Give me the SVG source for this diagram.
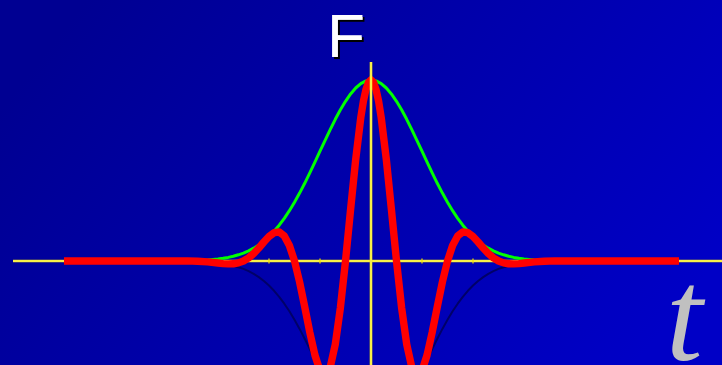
<svg xmlns="http://www.w3.org/2000/svg" width="722" height="365" viewBox="0 0 722 365">
  <defs>
    <linearGradient id="bg" x1="0" y1="0.3" x2="1" y2="0.7">
      <stop offset="0" stop-color="#000092"/>
      <stop offset="1" stop-color="#0000c6"/>
    </linearGradient>
    <filter id="shadow" x="-20%" y="-20%" width="150%" height="150%">
      <feDropShadow dx="2" dy="2" stdDeviation="0.6" flood-color="#000000" flood-opacity="1"/>
    </filter>
  </defs>
  <style>
    .axis { stroke: #f0e000; stroke-width: 2.6; fill: none; }
    .axisc { stroke: #ffff90; stroke-width: 1; fill: none; }
    .tick { stroke: #f0e000; stroke-width: 1.2; }
    .curve { fill: none; stroke-linejoin: round; stroke-linecap: butt; }
  </style>
  <rect x="0" y="0" width="722" height="365" fill="url(#bg)"/>
  <g id="x-axis">
    <line class="axis" x1="13" y1="261" x2="722" y2="261"/>
    <line class="axisc" x1="13" y1="261" x2="722" y2="261"/>
    <line class="tick" x1="269" y1="258.5" x2="269" y2="263.5"/>
    <line class="tick" x1="320" y1="258.5" x2="320" y2="263.5"/>
    <line class="tick" x1="422" y1="258.5" x2="422" y2="263.5"/>
    <line class="tick" x1="473" y1="258.5" x2="473" y2="263.5"/>
  </g>
  <g id="connectors">
    <polyline id="neg-envelope" class="curve" stroke="#000068" stroke-width="2" points="167,261 187.4,261.3 197.6,261.6 207.8,262.1 218,263 223.1,263.7 228.2,264.6 233.3,265.7 238.4,267.2 243.5,268.9 248.6,271.2 253.7,273.8 258.8,277.1 263.9,281 269,285.5 274.1,290.8 279.2,296.8 284.3,303.7 289.4,311.3 294.5,319.8 299.6,328.9 304.7,338.8 309.8,349.1 314.9,359.8 320,370.8 325.1,381.7"/>
    <polyline class="curve" stroke="#000068" stroke-width="2" points="416.9,381.7 422,370.8 427.1,359.8 432.2,349.1 437.3,338.8 442.4,328.9 447.5,319.8 452.6,311.3 457.7,303.7 462.8,296.8 467.9,290.8 473,285.5 478.1,281 483.2,277.1 488.3,273.8 493.4,271.2 498.5,268.9 503.6,267.2 508.7,265.7 513.8,264.6 518.9,263.7 524,263 534.2,262.1 544.4,261.6 554.6,261.3 575,261"/>
    <polyline id="envelope" class="curve" stroke="#00ff00" stroke-width="3" points="64,261 167,261 187.4,260.7 197.6,260.4 207.8,259.9 218,259 223.1,258.3 228.2,257.4 233.3,256.3 238.4,254.8 243.5,253.1 248.6,250.8 253.7,248.2 258.8,244.9 263.9,241 269,236.5 274.1,231.2 279.2,225.2 284.3,218.3 289.4,210.7 294.5,202.2 299.6,193.1 304.7,183.3 309.8,172.9 314.9,162.2 320,151.2 325.1,140.3 330.2,129.6 335.3,119.3 340.4,109.8 345.5,101.3 350.6,93.9 355.7,88 360.8,83.6 365.9,80.9 371,80 376.1,80.9 381.2,83.6 386.3,88 391.4,93.9 396.5,101.3 401.6,109.8 406.7,119.3 411.8,129.6 416.9,140.3 422,151.2 427.1,162.2 432.2,172.9 437.3,183.3 442.4,193.1 447.5,202.2 452.6,210.7 457.7,218.3 462.8,225.2 467.9,231.2 473,236.5 478.1,241 483.2,244.9 488.3,248.2 493.4,250.8 498.5,253.1 503.6,254.8 508.7,256.3 513.8,257.4 518.9,258.3 524,259 534.2,259.9 544.4,260.4 554.6,260.7 575,261 679,261"/>
    <polyline id="wave" class="curve" stroke="#ff0000" stroke-width="7.4" points="64,261 167,261 187.4,260.9 197.6,261.2 207.8,261.9 218,263 223.1,263.6 228.2,263.9 233.3,263.8 238.4,262.9 243.5,261 248.6,257.9 253.7,253.5 258.8,248 263.9,242 269,236.5 274.1,232.7 279.2,232 284.3,235.9 289.4,245.5 294.5,261 299.6,282 304.7,306.7 309.8,332.3 314.9,355 320,370.8 325.1,375.8 330.2,367.3 335.3,344.3 340.4,307.7 345.5,261 350.6,209.4 355.7,159.3 360.8,117.5 363.35,101.5 365.9,89.7 368.45,82.5 371,80 373.55,82.5 376.1,89.7 378.65,101.5 381.2,117.5 386.3,159.3 391.4,209.4 396.5,261 401.6,307.7 406.7,344.3 411.8,367.3 416.9,375.8 422,370.8 427.1,355 432.2,332.3 437.3,306.7 442.4,282 447.5,261 452.6,245.5 457.7,235.9 462.8,232 467.9,232.7 473,236.5 478.1,242 483.2,248 488.3,253.5 493.4,257.9 498.5,261 503.6,262.9 508.7,263.8 513.8,263.9 518.9,263.6 524,263 534.2,261.9 544.4,261.2 554.6,260.9 575,261 679,261"/>
  </g>
  <g id="y-axis">
    <line class="axis" x1="371" y1="62" x2="371" y2="365"/>
    <line class="axisc" x1="371" y1="62" x2="371" y2="365"/>
  </g>
  <g id="label-F">
    <text x="327" y="57" font-family="Liberation Sans, Arial, sans-serif" font-size="62" fill="#ffffff" filter="url(#shadow)">F</text>
  </g>
  <g id="label-t">
    <text x="666" y="360" font-family="Liberation Serif, Times New Roman, serif" font-style="italic" font-size="132" fill="#c0c0c0">t</text>
  </g>
</svg>
